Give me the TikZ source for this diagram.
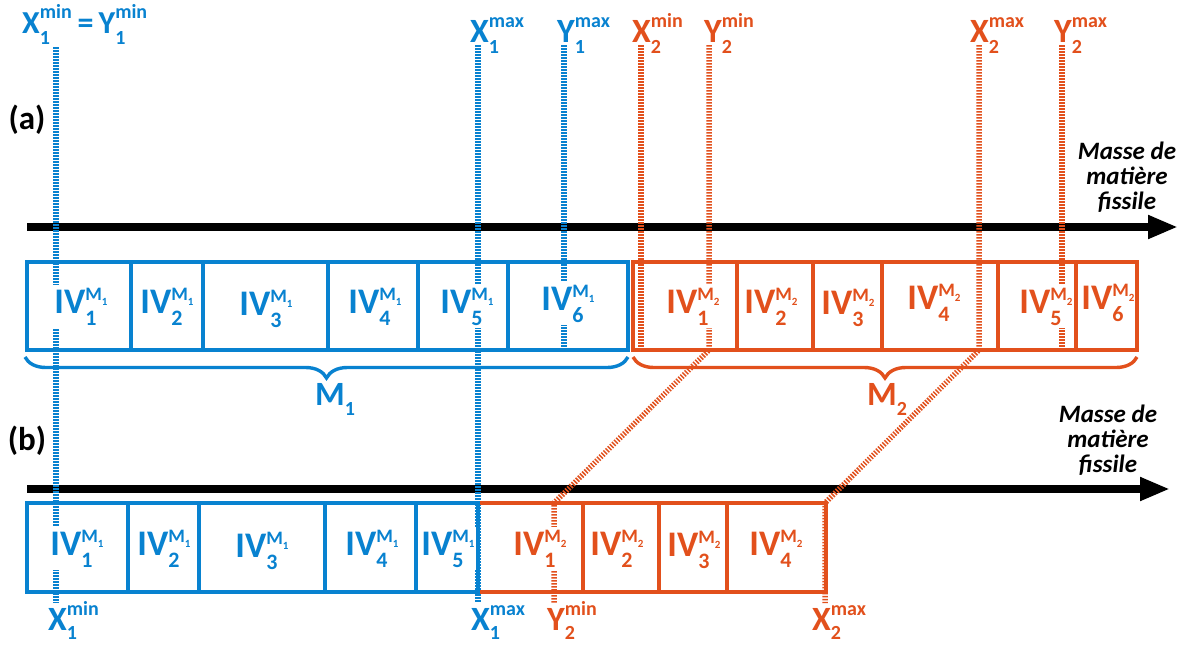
\documentclass[tikz,border=0pt]{standalone}
\usepackage{fontspec}
\setmainfont{Carlito}
\usetikzlibrary{arrows.meta,decorations.pathreplacing}
\definecolor{cblue}{RGB}{8,130,208}
\definecolor{corange}{RGB}{226,80,28}
\newcommand\fs[1]{\fontsize{#1}{#1}\selectfont}
\newcommand\xylab[4][11pt]{#2\rlap{\raisebox{-#1}{\fs{20}#4}}\raisebox{15pt}{\fs{20}#3}}
\newcommand\ivlab[2]{IV\rlap{\raisebox{-12pt}{\fs{22}#2}}\raisebox{13pt}{\fs{19}M\raisebox{-5pt}{\fs{11}#1}}}
\newcommand\cellnode[6]{\node[cellbox,#6,minimum width={(#3-#2)*1pt},minimum height={(#5-#4)*1pt}] (#1) at ({(#2+#3)/2},{(#4+#5)/2}) {};}
\begin{document}
\begin{tikzpicture}[x=1pt,y=-1pt,
  axisarrow/.style={line width=8pt,-{Triangle[length=30pt,width=22pt]}},
  dotl/.style={line width=5.5pt,dash pattern=on 1.5pt off 1.5pt},
  bracel/.style={line width=3.4pt,decorate,decoration={brace,mirror,amplitude=21pt}},
  cellbox/.style={draw,line width=3.3pt,inner sep=0pt,outer sep=0pt},
  ivt/.style={font=\bfseries\fs{36},fill=white,inner sep=3pt,anchor=base},
  xyt/.style={font=\bfseries\fs{34},inner sep=0pt,anchor=base west},
  mass/.style={font=\bfseries\itshape\fontsize{25}{25}\selectfont,align=center,inner sep=0pt}
]
\useasboundingbox (0,0) rectangle (1191,646);
\fill[white] (0,0) rectangle (1191,646);

% axes
\coordinate (axa0) at (27,227); \coordinate (axa1) at (1178,227);
\coordinate (axb0) at (27,489); \coordinate (axb1) at (1170,489);
\draw[axisarrow] (axa0) -- (axa1);
\draw[axisarrow] (axb0) -- (axb1);

% braces
\coordinate (br1a) at (25,357); \coordinate (br1b) at (628,357);
\coordinate (br2a) at (633,357); \coordinate (br2b) at (1137,357);
\draw[bracel,cblue] (br1a) -- (br1b);
\draw[bracel,corange] (br2a) -- (br2b);

% dotted guide lines
\coordinate (x1mint) at (56,47);   \coordinate (x1minb) at (56,603);
\coordinate (x1maxt) at (478,45);  \coordinate (x1maxb) at (478,603);
\coordinate (y1maxt) at (564,45);  \coordinate (y1maxb) at (564,350);
\coordinate (x2mint) at (641,45);  \coordinate (x2minb) at (641,350);
\coordinate (y2mint) at (709,45);  \coordinate (y2mina) at (709,350);
\coordinate (y2minc) at (554,503); \coordinate (y2minb) at (554,603);
\coordinate (x2maxt) at (979,45);  \coordinate (x2maxa) at (979,350);
\coordinate (x2maxc) at (825,503); \coordinate (x2maxb) at (825,603);
\coordinate (y2maxt) at (1062,45); \coordinate (y2maxb) at (1062,350);
\draw[dotl,cblue] (x1mint) -- (x1minb);
\draw[dotl,cblue] (x1maxt) -- (x1maxb);
\draw[dotl,cblue] (y1maxt) -- (y1maxb);
\draw[dotl,corange] (x2mint) -- (x2minb);
\draw[dotl,corange] (y2mint) -- (y2mina) -- (y2minc) -- (y2minb);
\draw[dotl,corange] (x2maxt) -- (x2maxa) -- (x2maxc) -- (x2maxb);
\draw[dotl,corange] (y2maxt) -- (y2maxb);

% cell labels (a)
\node[ivt,text=cblue] (ta1) at (81,313) {\ivlab{1}{1}};
\node[ivt,text=cblue] (ta2) at (167,313) {\ivlab{1}{2}};
\node[ivt,text=cblue] (ta3) at (266,315) {\ivlab{1}{3}};
\node[ivt,text=cblue] (ta4) at (375,313) {\ivlab{1}{4}};
\node[ivt,text=cblue] (ta5) at (467,313) {\ivlab{1}{5}};
\node[ivt,text=cblue] (ta6) at (568,310) {\ivlab{1}{6}};
\node[ivt,text=corange] (tc1) at (693,313) {\ivlab{2}{1}};
\node[ivt,text=corange] (tc2) at (771,313) {\ivlab{2}{2}};
\node[ivt,text=corange] (tc3) at (848,314) {\ivlab{2}{3}};
\node[ivt,text=corange] (tc4) at (934,309) {\ivlab{2}{4}};
\node[ivt,text=corange] (tc5) at (1046,313) {\ivlab{2}{5}};
\node[ivt,text=corange] (tc6) at (1108,309) {\ivlab{2}{6}};
% cell labels (b)
\node[ivt,text=cblue] (tb1) at (77,555) {\ivlab{1}{1}};
\node[ivt,text=cblue] (tb2) at (164,555) {\ivlab{1}{2}};
\node[ivt,text=cblue] (tb3) at (262,557) {\ivlab{1}{3}};
\node[ivt,text=cblue] (tb4) at (372,555) {\ivlab{1}{4}};
\node[ivt,text=cblue] (tb5) at (448,555) {\ivlab{1}{5}};
\node[ivt,text=corange] (td1) at (540,555) {\ivlab{2}{1}};
\node[ivt,text=corange] (td2) at (617,555) {\ivlab{2}{2}};
\node[ivt,text=corange] (td3) at (694,556) {\ivlab{2}{3}};
\node[ivt,text=corange] (td4) at (776,555) {\ivlab{2}{4}};

% cells (a)
\cellnode{a1}{27}{131}{262}{350}{cblue}
\cellnode{a2}{131}{203}{262}{350}{cblue}
\cellnode{a3}{203}{328}{262}{350}{cblue}
\cellnode{a4}{328}{418}{262}{350}{cblue}
\cellnode{a5}{418}{508}{262}{350}{cblue}
\cellnode{a6}{508}{628}{262}{350}{cblue}
\cellnode{c1}{633}{737}{262}{350}{corange}
\cellnode{c2}{737}{813}{262}{350}{corange}
\cellnode{c3}{813}{882}{262}{350}{corange}
\cellnode{c4}{882}{998}{262}{350}{corange}
\cellnode{c5}{998}{1076}{262}{350}{corange}
\cellnode{c6}{1076}{1137}{262}{350}{corange}
% cells (b)
\cellnode{d1}{478}{583}{503}{592}{corange}
\cellnode{d2}{583}{659}{503}{592}{corange}
\cellnode{d3}{659}{727}{503}{592}{corange}
\cellnode{d4}{727}{826}{503}{592}{corange}
\cellnode{b1}{27}{128}{503}{592}{cblue}
\cellnode{b2}{128}{199}{503}{592}{cblue}
\cellnode{b3}{199}{325}{503}{592}{cblue}
\cellnode{b4}{325}{416}{503}{592}{cblue}
\cellnode{b5}{416}{478}{503}{592}{cblue}

% top labels
\node[xyt,text=cblue,font=\bfseries\fs{32}] (lx1y1) at (22,33) {\xylab{X}{min}{1}\hspace{6pt}=\hspace{5pt}\xylab{Y}{min}{1}};
\node[xyt,text=cblue] (lx1max) at (470,42) {\xylab{X}{max}{1}};
\node[xyt,text=cblue] (ly1max) at (557,42) {\xylab{Y}{max}{1}};
\node[xyt,text=corange] (lx2min) at (632,42) {\xylab{X}{min}{2}};
\node[xyt,text=corange] (ly2min) at (704,42) {\xylab{Y}{min}{2}};
\node[xyt,text=corange] (lx2max) at (970,42) {\xylab{X}{max}{2}};
\node[xyt,text=corange] (ly2max) at (1054,42) {\xylab{Y}{max}{2}};
% bottom labels
\node[xyt,text=cblue] (bx1min) at (48,630) {\xylab[9pt]{X}{min}{1}};
\node[xyt,text=cblue] (bx1max) at (471,630) {\xylab[9pt]{X}{max}{1}};
\node[xyt,text=corange] (by2min) at (547,630) {\xylab[9pt]{Y}{min}{2}};
\node[xyt,text=corange] (bx2max) at (812,630) {\xylab[9pt]{X}{max}{2}};

% brace labels
\node[xyt,text=cblue] (m1) at (315,405) {M\raisebox{-10pt}{\fs{20}1}};
\node[xyt,text=corange] (m2) at (867,405) {M\raisebox{-10pt}{\fs{20}2}};

% panel labels
\node[font=\bfseries\fs{33},inner sep=0pt] (pa) at (27,120) {(a)};
\node[font=\bfseries\fs{33},inner sep=0pt] (pb) at (27,441) {(b)};

% axis titles
\node[mass] (mta) at (1127,177) {Masse de\\matière\\fissile};
\node[mass] (mtb) at (1108,440) {Masse de\\matière\\fissile};
\end{tikzpicture}
\end{document}
